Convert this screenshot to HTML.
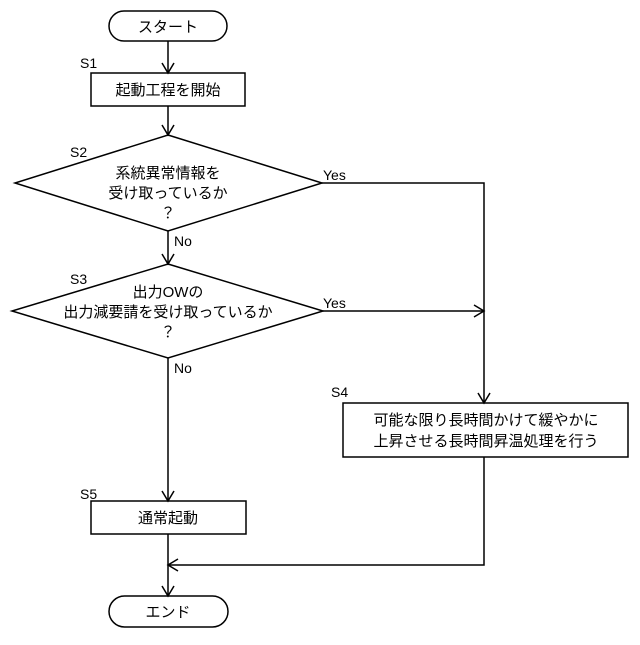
<!DOCTYPE html>
<html><head><meta charset="utf-8"><style>
body{margin:0;background:#fff}
svg text{font-family:"Liberation Sans","Noto Sans CJK JP",sans-serif;fill:#000}
</style></head><body>
<svg width="640" height="640" viewBox="0 0 640 640" xmlns="http://www.w3.org/2000/svg">
<g fill="none" stroke="#000" stroke-width="1.5">
<rect x="109" y="11" width="118" height="30" rx="15"/>
<rect x="91" y="73" width="154" height="33"/>
<polygon points="168,135 322,183 168,231 15,183"/>
<polygon points="168,264 323,311 168,358 12,311"/>
<rect x="343" y="403" width="285" height="54"/>
<rect x="91" y="501" width="155" height="33"/>
<rect x="109" y="596" width="119" height="31" rx="15.5"/>
<path d="M168 41V73M168 106V135M168 231V264M168 358V501M168 534V596"/>
<path d="M322 183H484V403M323 311H484M484 457V565H168"/>
<path d="M162 63L168 73L174 63M162 125L168 135L174 125M162 254L168 264L174 254M162 491L168 501L174 491M162 586L168 596L174 586M474 305L484 311L474 317M478 393L484 403L490 393M178 559L168 565L178 571"/>
</g>
<g font-size="15" text-anchor="middle">
<text x="168" y="32">スタート</text>
<text x="168" y="95">起動工程を開始</text>
<text x="168" y="178">系統異常情報を</text>
<text x="168" y="198">受け取っているか</text>
<text x="168" y="218">？</text>
<text x="168" y="297">出力OWの</text>
<text x="168" y="317">出力減要請を受け取っているか</text>
<text x="168" y="337">？</text>
<text x="486" y="425">可能な限り長時間かけて緩やかに</text>
<text x="486" y="446">上昇させる長時間昇温処理を行う</text>
<text x="168" y="523">通常起動</text>
<text x="168" y="617">エンド</text>
</g>
<g font-size="14">
<text x="80" y="68">S1</text>
<text x="70" y="157">S2</text>
<text x="70" y="284">S3</text>
<text x="331" y="397">S4</text>
<text x="80" y="499">S5</text>
<text x="174" y="246">No</text>
<text x="174" y="373">No</text>
<text x="323" y="180">Yes</text>
<text x="323" y="308">Yes</text>
</g>
</svg>
</body></html>
